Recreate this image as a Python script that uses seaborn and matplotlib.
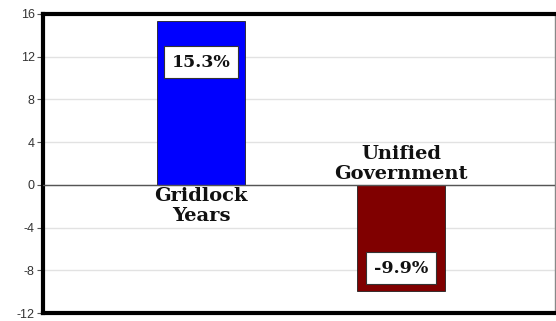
import matplotlib
matplotlib.use("Agg")
import matplotlib.pyplot as plt
import seaborn as sns
import pandas as pd

categories = ["Gridlock\nYears", "Unified\nGovernment"]
values = [15.3, -9.9]
value_labels = ["15.3%", "-9.9%"]
colors = ["#0000ff", "#800000"]
yticks = [-12, -8, -4, 0, 4, 8, 12, 16]

sns.set_theme(style="white")
plt.rcParams["font.family"] = ["Liberation Sans", "DejaVu Sans"]

fig = plt.figure(figsize=(5.56, 3.21), dpi=100)
ax = fig.add_axes([43 / 556, 8 / 321, (555 - 43) / 556, (313 - 14) / 321])

df = pd.DataFrame({"cat": categories, "val": values})
sns.barplot(data=df, x="cat", y="val", hue="cat", palette=colors, width=0.44,
            saturation=1, edgecolor="#202020", linewidth=0.6, legend=False,
            ax=ax, zorder=3)

ax.set_xlim(-0.79, 1.77)
ax.set_ylim(-12, 16)
ax.set_yticks(yticks)
ax.set_yticklabels([str(t) for t in yticks], fontsize=9, color="#333333")
ax.set_xticks([])
ax.set_xlabel("")
ax.set_ylabel("")
ax.tick_params(axis="y", which="both", left=True, length=4, width=0.8,
               color="#555555", pad=2)
ax.grid(axis="y", color="#e2e2e2", linewidth=1, zorder=0)
ax.axhline(0, color="#555555", linewidth=1, zorder=4)

for side in ["left", "top", "bottom"]:
    ax.spines[side].set_linewidth(3)
    ax.spines[side].set_color("black")
ax.spines["right"].set_linewidth(1)
ax.spines["right"].set_color("#888888")

serif = ["DejaVu Serif"]
for i, (cat, v, lab) in enumerate(zip(categories, values, value_labels)):
    if v >= 0:
        ax.text(i, -0.2, cat, ha="center", va="top", fontsize=14,
                fontweight="bold", family=serif, color="#111111",
                linespacing=1.15, zorder=5)
        ly = v - 3.8
    else:
        ax.text(i, 0.2, cat, ha="center", va="bottom", fontsize=14,
                fontweight="bold", family=serif, color="#111111",
                linespacing=1.15, zorder=5)
        ly = v + 2.1
    ax.text(i, ly, lab, ha="center", va="center", fontsize=12.5,
            fontweight="bold", family=serif, color="#111111", zorder=6,
            bbox=dict(boxstyle="square,pad=0.45", fc="white",
                      ec="#333333", lw=0.8))

fig.savefig("out.png", dpi=100)
